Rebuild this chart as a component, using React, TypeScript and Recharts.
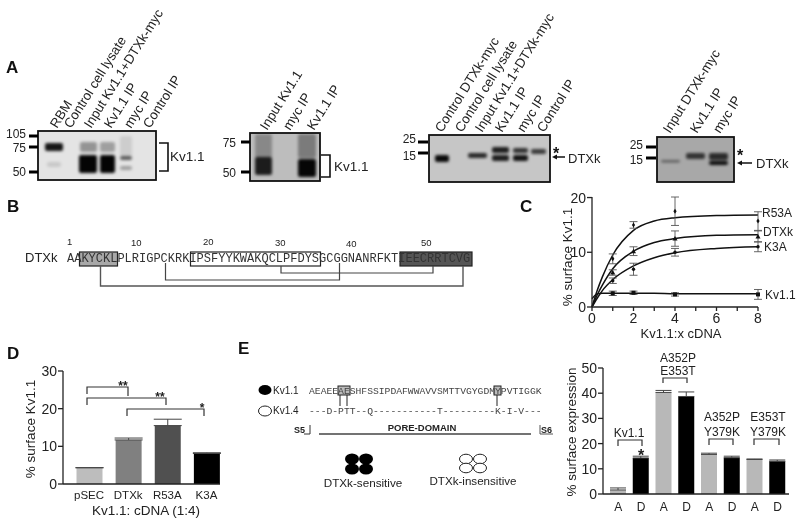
import React from 'react';
import { ComposedChart, BarChart, Bar, Line, XAxis, YAxis, ErrorBar, Cell } from 'recharts';

// Panel C: fitted curves
const curveX = [0, 0.25, 0.5, 1, 2, 3, 4, 6, 8];
const curveR53A = [0, 3, 5.5, 9.5, 14, 15.7, 16.3, 16.7, 16.8];
const curveDTXk = [0, 2.2, 4, 7, 10.2, 11.8, 12.5, 13.1, 13.2];
const curveK3A = [0, 1.6, 3, 5, 7.5, 9, 9.9, 10.7, 11];
const curveKv11 = [1.5, 2.4, 2.5, 2.5, 2.5, 2.5, 2.4, 2.4, 2.4];
// Panel C: measured points
const pointX = [1, 2, 4, 8];
const pointR53A = [8.8, 15, 17.5, 15.7];
const errR53A = [0.9, 0.6, 2.6, 1.7];
const pointDTXk = [6.3, 10.2, 12.5, 12.9];
const errDTXk = [0.5, 0.8, 1.4, 1];
const pointK3A = [4.8, 6.9, 10, 11];
const errK3A = [0.5, 1.1, 0.7, 0.9];
const pointKv11 = [2.5, 2.6, 2.3, 2.3];
const errKv11 = [0.4, 0.3, 0.3, 0.9];
const ticksCX = [0, 1, 2, 3, 4, 5, 6, 7, 8];
const ticksCY = [0, 10, 20];

// Panel D
const dLabels = ['pSEC', 'DTXk', 'R53A', 'K3A'];
const dValues = [4.3, 11.7, 15.5, 8.1];
const dErrors = [0.05, 0.5, 1.7, 0.2];
const dColors = ['#bdbdbd', '#808080', '#505050', '#000000'];
const dTicks = [0, 10, 20, 30];

// Panel E
const eLabels = ['A', 'D', 'A', 'D', 'A', 'D', 'A', 'D'];
const eValues = [1.6, 14.3, 40.3, 38.7, 15.7, 14.4, 13.7, 13];
const eErrors = [0.8, 0.7, 0.8, 1.8, 0.5, 0.6, 0.2, 0.5];
const eColors = ['#b8b8b8', '#000000'];
const eTicks = [0, 10, 20, 30, 40, 50];

// Sequences
const seqDTXk = 'AAKYCKLPLRIGPCKRKIPSFYYKWAKQCLPFDYSGCGGNANRFKTIEECRRTCVG';
const seqKv11 = 'AEAEEAESHFSSIPDAFWWAVVSMTTVGYGDMYPVTIGGK';
const seqKv14 = '---D-PTT--Q-----------T---------K-I-V---';

const SANS = '"Liberation Sans", Arial, sans-serif';
const MONO = '"Liberation Mono", monospace';
const INK = '#222222';

const zipCurve = (ys: number[]) => curveX.map((x, i) => ({ x, y: ys[i] }));
const zipPoints = (ys: number[], es: number[]) => pointX.map((x, i) => ({ x, y: ys[i], err: es[i] }));
const dData = dLabels.map((name, i) => ({ name, value: dValues[i], err: dErrors[i] }));
const eData = eLabels.map((name, i) => ({ id: i, name, value: eValues[i], err: eErrors[i] }));

const tri = (p: any) => <path key={p.index} d={`M${p.cx} ${p.cy - 2.5}L${p.cx + 2.5} ${p.cy + 2}L${p.cx - 2.5} ${p.cy + 2}Z`} fill="#111" />;
const dia = (p: any) => <path key={p.index} d={`M${p.cx} ${p.cy - 2.5}L${p.cx + 1.6} ${p.cy}L${p.cx} ${p.cy + 2.5}L${p.cx - 1.6} ${p.cy}Z`} fill="#111" />;
const sq = (p: any) => <rect key={p.index} x={p.cx - 2} y={p.cy - 2} width={4} height={4} fill="#111" />;
const cir = (p: any) => <circle key={p.index} cx={p.cx} cy={p.cy} r={1.7} fill="#111" />;

function PanelC() {
  const curves = [curveR53A, curveDTXk, curveK3A, curveKv11];
  const pts: [number[], number[], any][] = [
    [pointR53A, errR53A, dia],
    [pointDTXk, errDTXk, tri],
    [pointK3A, errK3A, cir],
    [pointKv11, errKv11, sq],
  ];
  return (
    <div style={{ position: 'absolute', left: 540, top: 180 }}>
      <ComposedChart width={250} height={170} margin={{ top: 17, left: 0, right: 32, bottom: 13 }}>
        <XAxis type="number" dataKey="x" domain={[0, 8]} ticks={ticksCX} interval={0} height={30}
          tickFormatter={(v: number) => (v % 2 === 0 ? String(v) : '')}
          tick={{ fontSize: 14, fill: INK, fontFamily: SANS }} tickSize={4} tickMargin={2}
          stroke={INK} strokeWidth={1.3} />
        <YAxis type="number" domain={[0, 20]} ticks={ticksCY} width={52}
          tick={{ fontSize: 14, fill: INK, fontFamily: SANS }} tickSize={5} tickMargin={1}
          stroke={INK} strokeWidth={1.3} />
        {curves.map((c, i) => (
          <Line key={i} data={zipCurve(c)} dataKey="y" type="monotone" stroke="#111" strokeWidth={1.5}
            dot={false} isAnimationActive={false} />
        ))}
        {pts.map(([ys, es, shape], i) => (
          <Line key={'p' + i} data={zipPoints(ys, es)} dataKey="y" stroke="none" dot={shape}
            isAnimationActive={false}>
            <ErrorBar dataKey="err" direction="y" width={4} stroke="#555" strokeWidth={0.9} isAnimationActive={false} />
          </Line>
        ))}
      </ComposedChart>
    </div>
  );
}

function PanelD() {
  return (
    <div style={{ position: 'absolute', left: 0, top: 360 }}>
      <BarChart width={240} height={160} data={dData} margin={{ top: 11, left: 0, right: 20, bottom: 6 }} barSize={26}>
        <XAxis dataKey="name" height={30} padding={{ left: 6.5, right: -6 }} interval={0}
          tick={{ fontSize: 11.5, fill: INK, fontFamily: SANS }} tickLine={false} tickMargin={1}
          stroke={INK} strokeWidth={1.3} />
        <YAxis domain={[0, 30]} ticks={dTicks} width={63}
          tick={{ fontSize: 14, fill: INK, fontFamily: SANS }} tickSize={5} tickMargin={1}
          stroke={INK} strokeWidth={1.3} />
        <Bar dataKey="value" isAnimationActive={false}>
          {dData.map((d, i) => <Cell key={d.name} fill={dColors[i]} />)}
          <ErrorBar dataKey={(d: any) => [0, d.err]} direction="y" width={14} stroke="#444" strokeWidth={1} isAnimationActive={false} />
        </Bar>
      </BarChart>
    </div>
  );
}

function PanelE() {
  return (
    <div style={{ position: 'absolute', left: 540, top: 358 }}>
      <BarChart width={260} height={165} data={eData} margin={{ top: 10, left: 0, right: 11, bottom: 0 }} barSize={16}>
        <XAxis dataKey="id" height={29} padding={{ left: 4, right: 0 }} interval={0}
          tickFormatter={(i: number) => eLabels[i]}
          tick={{ fontSize: 12, fill: INK, fontFamily: SANS }} tickLine={false} tickMargin={2}
          stroke={INK} strokeWidth={1.3} />
        <YAxis domain={[0, 50]} ticks={eTicks} width={63}
          tick={{ fontSize: 14, fill: INK, fontFamily: SANS }} tickSize={5} tickMargin={1}
          stroke={INK} strokeWidth={1.3} />
        <Bar dataKey="value" isAnimationActive={false}>
          {eData.map((d) => <Cell key={d.id} fill={eColors[d.id % 2]} />)}
          <ErrorBar dataKey={(d: any) => [0, d.err]} direction="y" width={8} stroke="#444" strokeWidth={1} isAnimationActive={false} />
        </Bar>
      </BarChart>
    </div>
  );
}

const T = (p: any) => {
  const { x, y, s = 12, a, w, fill = INK, f = SANS, r, children, ...rest } = p;
  return (
    <text x={x} y={y} fontSize={s} fontFamily={f} fill={fill} textAnchor={a} fontWeight={w}
      transform={r !== undefined ? `rotate(${r} ${x} ${y})` : undefined} {...rest}>{children}</text>
  );
};

const Lane = ({ x, y, t }: { x: number; y: number; t: string }) => <T x={x} y={y} s={13.3} r={-58}>{t}</T>;

const Size = ({ x0, x1, y, label, lx, ly }: any) => (
  <g>
    <line x1={x0} x2={x1} y1={y} y2={y} stroke="#000" strokeWidth={3} />
    <T x={lx} y={ly} s={12} a="end">{label}</T>
  </g>
);

const Blot = ({ id, x, y, w, h, bg, bands }: any) => (
  <g>
    <clipPath id={id}><rect x={x} y={y} width={w} height={h} /></clipPath>
    <rect x={x} y={y} width={w} height={h} fill={bg} />
    <g clipPath={`url(#${id})`}>
      <g filter="url(#soft)">
        {bands.map((b: number[], i: number) => (
          <rect key={i} x={b[0]} y={b[1]} width={b[2]} height={b[3]} rx={2} fill="#000" opacity={b[4]} />
        ))}
      </g>
    </g>
    <rect x={x} y={y} width={w} height={h} fill="none" stroke="#111" strokeWidth={1.8} />
  </g>
);

const Bracket = ({ x0, x1, top, l, r }: any) => (
  <path d={`M${x0} ${l}V${top}H${x1}V${r}`} fill="none" stroke="#333" strokeWidth={1.2} />
);

function Overlay() {
  return (
    <svg width={800} height={526} style={{ position: 'absolute', left: 0, top: 0, pointerEvents: 'none' }}>
      <defs>
        <filter id="soft" x="-30%" y="-30%" width="160%" height="160%"><feGaussianBlur stdDeviation="1.5" /></filter>
      </defs>

      {/* Panel letters */}
      <T x={6} y={73} s={17} w="bold" fill="#111">A</T>
      <T x={7} y={212} s={17} w="bold" fill="#111">B</T>
      <T x={520} y={212} s={17} w="bold" fill="#111">C</T>
      <T x={7} y={359} s={17} w="bold" fill="#111">D</T>
      <T x={238} y={354} s={17} w="bold" fill="#111">E</T>

      {/* Blot 1 */}
      <Blot id="b1" x={38} y={131} w={118} h={49} bg="#e4e4e4" bands={[
        [45, 143, 18, 8, 0.9], [47, 162, 14, 5, 0.12],
        [80, 142, 17, 10, 0.35], [79, 155, 18, 18, 0.98],
        [100, 142, 15, 10, 0.3], [100, 155, 15, 18, 0.98],
        [120, 136, 12, 20, 0.1], [120, 156, 12, 4, 0.6], [120, 166, 12, 4, 0.3],
      ]} />
      <Lane x={57} y={129} t="RBM" />
      <Lane x={71} y={129} t="Control cell lysate" />
      <Lane x={91} y={129} t="Input Kv1.1+DTXk-myc" />
      <Lane x={111} y={129} t="Kv1.1 IP" />
      <Lane x={131} y={129} t="myc IP" />
      <Lane x={150} y={129} t="Control IP" />
      <Size x0={29} x1={38} y={136} label="105" lx={26} ly={138} />
      <Size x0={29} x1={38} y={147} label="75" lx={26} ly={152} />
      <Size x0={29} x1={38} y={172} label="50" lx={26} ly={176} />
      <path d="M159 143H168V171H159" fill="none" stroke="#111" strokeWidth={1.6} />
      <T x={170} y={161} s={13.5}>Kv1.1</T>

      {/* Blot 2 */}
      <Blot id="b2" x={250} y={133} w={70} h={48} bg="#bdbdbd" bands={[
        [255, 134, 17, 24, 0.28], [255, 157, 17, 18, 0.85],
        [298, 134, 18, 24, 0.35], [298, 159, 18, 18, 0.97],
      ]} />
      <Lane x={267} y={131} t="Input Kv1.1" />
      <Lane x={290} y={131} t="myc IP" />
      <Lane x={314} y={131} t="Kv1.1 IP" />
      <Size x0={241} x1={250} y={142} label="75" lx={236} ly={147} />
      <Size x0={241} x1={250} y={172} label="50" lx={236} ly={177} />
      <path d="M321 155H330V177H321" fill="none" stroke="#111" strokeWidth={1.6} />
      <T x={334} y={171} s={13.5}>Kv1.1</T>

      {/* Blot 3 */}
      <Blot id="b3" x={429} y={135} w={121} h={47} bg="#c6c6c6" bands={[
        [435, 155, 14, 7, 0.95], [468, 153, 19, 5, 0.8],
        [492, 147, 17, 6, 0.85], [492, 155, 17, 6, 0.85],
        [513, 148, 15, 5, 0.75], [513, 155, 15, 6, 0.9],
        [531, 149, 15, 5, 0.7],
      ]} />
      <Lane x={442} y={133} t="Control DTXk-myc" />
      <Lane x={462} y={133} t="Control cell lysate" />
      <Lane x={482} y={133} t="Input Kv1.1+DTXk-myc" />
      <Lane x={502} y={133} t="Kv1.1 IP" />
      <Lane x={524} y={133} t="myc IP" />
      <Lane x={544} y={133} t="Control IP" />
      <Size x0={418} x1={428} y={142} label="25" lx={416} ly={143} />
      <Size x0={418} x1={428} y={153} label="15" lx={416} ly={160} />
      <T x={553} y={159} s={16} w="bold" fill="#111">*</T>
      <path d="M565 157H556" stroke="#111" strokeWidth={1.5} /><path d="M552 157L557 154.5V159.5Z" fill="#111" />
      <T x={568} y={163} s={13}>DTXk</T>

      {/* Blot 4 */}
      <Blot id="b4" x={657} y={137} w={77} h={45} bg="#a8a8a8" bands={[
        [661, 160, 19, 2.5, 0.45], [686, 153, 19, 6, 0.7],
        [709, 153, 19, 7, 0.75], [709, 161, 19, 4, 0.95],
      ]} />
      <Lane x={670} y={134} t="Input DTXk-myc" />
      <Lane x={697} y={134} t="Kv1.1 IP" />
      <Lane x={720} y={134} t="myc IP" />
      <Size x0={646} x1={656} y={147} label="25" lx={643} ly={149} />
      <Size x0={646} x1={656} y={158} label="15" lx={643} ly={164} />
      <T x={737} y={161} s={16} w="bold" fill="#111">*</T>
      <path d="M752 163H741" stroke="#111" strokeWidth={1.5} /><path d="M737 163L742 160.5V165.5Z" fill="#111" />
      <T x={756} y={168} s={13}>DTXk</T>

      {/* Panel B */}
      <rect x={79.5} y={252} width={38} height={14} fill="#a8a8a8" stroke="#222" strokeWidth={1.2} />
      <rect x={190.5} y={252} width={130} height={14} fill="#fff" stroke="#222" strokeWidth={1.2} />
      <rect x={400} y={252} width={72} height={14} fill="#555" stroke="#222" strokeWidth={1.2} />
      <T x={67} y={262} s={12} f={MONO} fill="#333">{seqDTXk}</T>
      <T x={25} y={262} s={13}>DTXk</T>
      <T x={67} y={245} s={9.5}>1</T>
      <T x={131} y={246} s={9.5}>10</T>
      <T x={203} y={245} s={9.5}>20</T>
      <T x={275} y={246} s={9.5}>30</T>
      <T x={346} y={247} s={9.5}>40</T>
      <T x={421} y={246} s={9.5}>50</T>
      <path d="M100.5 266V286H463V266" fill="none" stroke="#555" strokeWidth={1.4} />
      <path d="M165.5 263V280H339.5V263" fill="none" stroke="#444" strokeWidth={1.2} />
      <path d="M281 266V273H433V266" fill="none" stroke="#444" strokeWidth={1.2} />

      {/* Panel C labels */}
      <T x={0} y={0} s={13.5} a="middle" transform="translate(572 257) rotate(-90)">% surface Kv1.1</T>
      <T x={681} y={338} s={13} a="middle">Kv1.1:x cDNA</T>
      <T x={762} y={217} s={12}>R53A</T>
      <T x={763} y={236} s={12}>DTXk</T>
      <T x={764} y={251} s={12}>K3A</T>
      <T x={765} y={299} s={12}>Kv1.1</T>

      {/* Panel D labels */}
      <T x={0} y={0} s={13.5} a="middle" transform="translate(35 429) rotate(-90)">% surface Kv1.1</T>
      <T x={146} y={515} s={13.5} a="middle">Kv1.1: cDNA (1:4)</T>
      <Bracket x0={87} x1={128} top={387} l={394} r={396} />
      <Bracket x0={87} x1={166} top={398} l={405} r={405} />
      <Bracket x0={127} x1={204} top={409} l={416} r={416} />
      <T x={123} y={390} s={12} w="bold" a="middle">**</T>
      <T x={160} y={401} s={12} w="bold" a="middle">**</T>
      <T x={202} y={412} s={12} w="bold" a="middle">*</T>

      {/* Panel E alignment */}
      <ellipse cx={265} cy={390} rx={6.5} ry={5} fill="#000" />
      <ellipse cx={265} cy={411} rx={6.5} ry={5} fill="#fff" stroke="#222" />
      <T x={273} y={394} s={10}>Kv1.1</T>
      <T x={273} y={414} s={10}>Kv1.4</T>
      <rect x={338} y={386} width={12} height={9} fill="#bbb" stroke="#222" />
      <rect x={494} y={386} width={7} height={9} fill="#bbb" stroke="#222" />
      <T x={309} y={394} s={9.7} f={MONO} fill="#444">{seqKv11}</T>
      <T x={309} y={414} s={9.7} f={MONO} fill="#444">{seqKv14}</T>
      <path d="M340 395V406M347 395V406M497 395V406" stroke="#222" />
      <T x={294} y={433} s={9} w="bold">S5</T>
      <path d="M310 425V434H304" fill="none" stroke="#333" />
      <T x={422} y={431} s={9.5} w="bold" a="middle">PORE-DOMAIN</T>
      <line x1={319} x2={531} y1={434} y2={434} stroke="#444" strokeWidth={1.5} />
      <path d="M540 425V434H553" fill="none" stroke="#555" />
      <T x={541} y={433} s={9} w="bold">S6</T>
      {[[352, 459], [366, 459], [352, 469], [366, 469]].map(([cx, cy], i) => (
        <ellipse key={i} cx={cx} cy={cy} rx={7} ry={5.5} fill="#000" />
      ))}
      {[[466, 459], [480, 459], [466, 468], [480, 468]].map(([cx, cy], i) => (
        <ellipse key={i} cx={cx} cy={cy} rx={6.5} ry={4.8} fill="#fff" stroke="#222" />
      ))}
      <T x={363} y={487} s={11.7} a="middle">DTXk-sensitive</T>
      <T x={473} y={485} s={11.6} a="middle">DTXk-insensitive</T>

      {/* Panel E bars labels */}
      <T x={0} y={0} s={13.5} a="middle" transform="translate(576 432) rotate(-90)">% surface expression</T>
      <T x={629} y={437} a="middle">Kv1.1</T>
      <Bracket x0={618} x1={642} top={440} l={446} r={446} />
      <T x={641} y={461} s={16} w="bold" a="middle">*</T>
      <T x={678} y={362} a="middle">A352P</T>
      <T x={678} y={375} a="middle">E353T</T>
      <Bracket x0={663} x1={687} top={378} l={383} r={383} />
      <T x={722} y={421} a="middle">A352P</T>
      <T x={722} y={436} a="middle">Y379K</T>
      <Bracket x0={709} x1={733} top={439} l={445} r={445} />
      <T x={768} y={421} a="middle">E353T</T>
      <T x={768} y={436} a="middle">Y379K</T>
      <Bracket x0={754} x1={779} top={439} l={445} r={445} />
    </svg>
  );
}

export default function App() {
  return (
    <div style={{ position: 'absolute', left: 0, top: 0, width: 800, height: 526, background: '#fff', overflow: 'hidden', filter: 'blur(0.4px)' }}>
      <PanelC />
      <PanelD />
      <PanelE />
      <Overlay />
    </div>
  );
}
